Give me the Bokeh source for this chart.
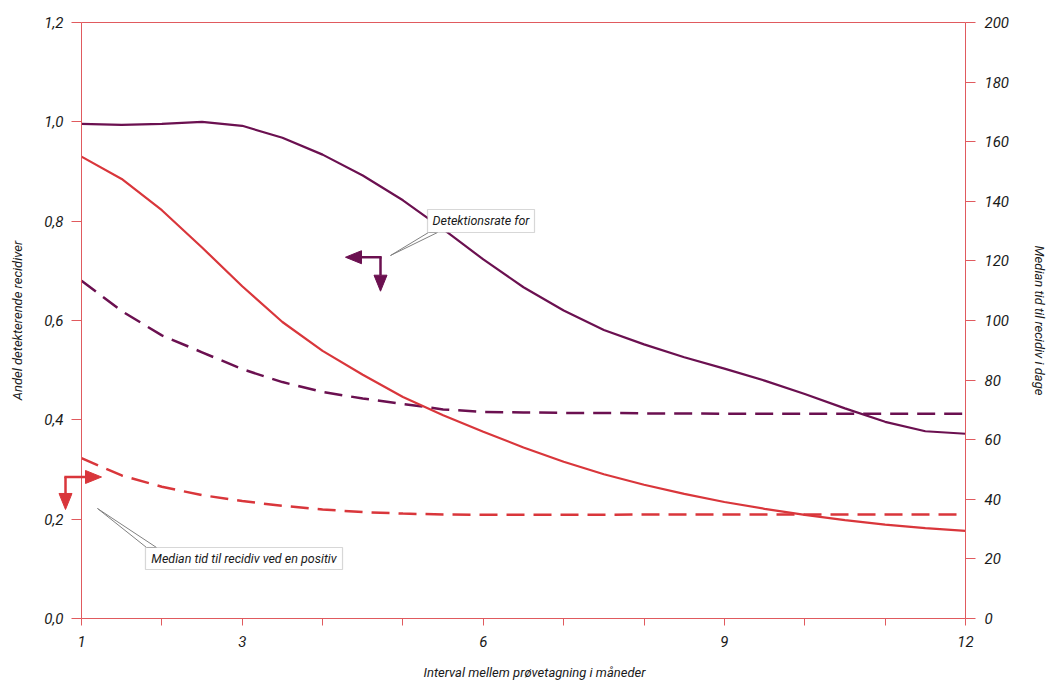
import math
from bokeh.plotting import figure
from bokeh.models import (Range1d, LinearAxis, FixedTicker, CustomJSTickFormatter,
                          BoxAnnotation, Label, PolyAnnotation)
from bokeh.embed import file_html
from bokeh.resources import INLINE

# ---- data -------------------------------------------------------------
months = [1, 1.5, 2, 2.5, 3, 3.5, 4, 4.5, 5, 5.5, 6, 6.5, 7, 7.5, 8, 8.5,
          9, 9.5, 10, 10.5, 11, 11.5, 12]
# left axis: share of detected recurrences
detect_solid = [0.996, 0.994, 0.996, 1.0, 0.992, 0.968, 0.934, 0.892, 0.842,
                0.784, 0.723, 0.667, 0.620, 0.581, 0.552, 0.526, 0.503, 0.479,
                0.452, 0.423, 0.396, 0.377, 0.372]
detect_dashed = [0.680, 0.619, 0.570, 0.536, 0.502, 0.476, 0.456, 0.443, 0.432,
                 0.421, 0.416, 0.415, 0.414, 0.414, 0.413, 0.413, 0.412, 0.412,
                 0.412, 0.412, 0.412, 0.412, 0.412]
# right axis: median time to recurrence in days
days_solid = [155, 147.5, 137, 124.5, 111.5, 99.5, 89.8, 81.8, 74.3, 68.2, 62.7,
              57.4, 52.6, 48.4, 44.9, 41.8, 39.1, 36.8, 34.8, 33.0, 31.5, 30.3, 29.4]
days_dashed = [53.8, 48.0, 44.2, 41.4, 39.4, 37.8, 36.6, 35.7, 35.2, 34.9, 34.8,
               34.8, 34.8, 34.8, 34.9, 34.9, 34.9, 34.9, 34.9, 34.9, 34.9, 34.9, 34.9]

x_ticks = list(range(1, 13))
x_labelled = [1, 3, 6, 9, 12]
left_ticks = [0, 0.2, 0.4, 0.6, 0.8, 1.0, 1.2]
right_ticks = list(range(0, 201, 20))

left_title = "Andel detekterende recidiver"
right_title = "Median tid til recidiv i dage"
x_title = "Interval mellem prøvetagning i måneder"
note_detect = "Detektionsrate for"
note_median = "Median tid til recidiv ved en positiv"

# ---- style / geometry -------------------------------------------------
PURPLE = "#6b1050"
RED = "#d9363b"
AXIS = "#e05a5e"
FONT = "Roboto"
TXT = "#1a1a1a"

W, H = 1046, 682
X0, X1 = 1, 12            # x axis extent (months)
Y0, Y1 = 0, 1.2           # left axis extent
D0, D1 = 0, 200           # right axis extent (days)
AX_LEFT, AX_RIGHT = 81, 965   # screen position of the axes
AX_TOP, AX_BOTTOM = 22, 618

PX_PER_X = (AX_RIGHT - AX_LEFT) / (X1 - X0)
PX_PER_Y = (AX_BOTTOM - AX_TOP) / (Y1 - Y0)
PX_PER_D = (AX_BOTTOM - AX_TOP) / (D1 - D0)

# the plotting frame covers the whole canvas, so that axis labels and the
# pointer arrows outside the axes are not clipped; axes sit at fixed locations
x_rng = Range1d(X0 - AX_LEFT / PX_PER_X, X1 + (W - AX_RIGHT) / PX_PER_X)
y_rng = Range1d(Y0 - (H - AX_BOTTOM) / PX_PER_Y, Y1 + AX_TOP / PX_PER_Y)
d_rng = Range1d(D0 - (H - AX_BOTTOM) / PX_PER_D, D1 + AX_TOP / PX_PER_D)

p = figure(width=W, height=H, output_backend="svg", toolbar_location=None,
           x_range=x_rng, y_range=y_rng,
           min_border_left=0, min_border_right=0, min_border_top=0,
           min_border_bottom=0, background_fill_color="white",
           border_fill_color="white")
p.extra_y_ranges = {"days": d_rng}
p.xgrid.visible = False
p.ygrid.visible = False
p.outline_line_color = None

# lines
p.line(months, detect_solid, color=PURPLE, line_width=2.2)
p.line(months, detect_dashed, color=PURPLE, line_width=2.5, line_dash="18 9")
p.line(months, days_solid, color=RED, line_width=2.2, y_range_name="days")
p.line(months, days_dashed, color=RED, line_width=2.5, line_dash="18 9",
       y_range_name="days")

# axes
def style_axis(ax):
    ax.axis_line_color = AXIS
    ax.axis_line_width = 1
    ax.major_tick_line_color = AXIS
    ax.major_tick_in = 0
    ax.minor_tick_line_color = None
    ax.major_label_text_font = FONT
    ax.major_label_text_font_style = "italic"
    ax.major_label_text_font_size = "15px"
    ax.major_label_text_color = TXT

xa = p.below[0]
ya = p.left[0]

style_axis(xa)
xa.fixed_location = Y0
xa.bounds = (X0, X1)
xa.ticker = FixedTicker(ticks=x_ticks)
xa.formatter = CustomJSTickFormatter(args=dict(show=x_labelled),
                                     code="return show.includes(tick) ? String(tick) : '';")
xa.major_tick_out = 7
xa.major_label_standoff = 10

style_axis(ya)
ya.fixed_location = X0
ya.bounds = (Y0, Y1)
ya.ticker = FixedTicker(ticks=left_ticks)
ya.formatter = CustomJSTickFormatter(code="return tick.toFixed(1).replace('.', ',');")
ya.major_tick_out = 10
ya.major_label_standoff = 8

top_axis = LinearAxis(ticker=FixedTicker(ticks=[]), bounds=(X0, X1),
                      fixed_location=Y1, major_tick_out=0, major_tick_in=0,
                      minor_tick_out=0, minor_tick_in=0,
                      major_label_text_font_size="0px",
                      axis_line_color=AXIS, axis_line_width=1)
p.add_layout(top_axis, "above")

right_axis = LinearAxis(y_range_name="days", fixed_location=X1)
p.add_layout(right_axis, "right")
style_axis(right_axis)
right_axis.bounds = (D0, D1)
right_axis.ticker = FixedTicker(ticks=right_ticks)
right_axis.major_tick_out = 10
right_axis.major_label_standoff = 9

def title_label(x, y, text, angle=0.0):
    p.add_layout(Label(x=x, y=y, text=text, angle=angle, text_font=FONT,
                       text_font_style="italic", text_font_size="13px",
                       text_align="center", text_baseline="middle",
                       text_color=TXT))

# axis titles (screen offsets from the axes converted to data units)
title_label(X0 - 64 / PX_PER_X, (Y0 + Y1) / 2, left_title, angle=math.pi / 2)
title_label(X1 + 74 / PX_PER_X, (Y0 + Y1) / 2, right_title, angle=-math.pi / 2)
title_label(X0 + 453 / PX_PER_X, Y0 - 54 / PX_PER_Y, x_title)

# ---- callouts (annotation positions in data units) ----------------------
def wedge(xs, ys):
    p.patch(xs, ys, fill_color="white", line_color="#808080", line_width=1)

def note(left, right, bottom, top, text):
    p.add_layout(BoxAnnotation(left=left, right=right, bottom=bottom, top=top,
                               fill_color="white", fill_alpha=1,
                               line_color="#7a7a7a", line_width=1.2))
    p.add_layout(Label(x=(left + right) / 2, y=(bottom + top) / 2, text=text,
                       text_font=FONT, text_font_style="italic",
                       text_font_size="12.5px", text_baseline="middle",
                       text_align="center", text_color=TXT))

wedge([4.845, 5.318, 5.430], [0.7309, 0.7772, 0.7772])
note(5.3055, 6.637, 0.7772, 0.8235, note_detect)

wedge([1.199, 1.809, 1.933], [0.2215, 0.1430, 0.1430])
note(1.796, 4.248, 0.0987, 0.1430, note_median)

# axis-pointer arrows (L-shaped polygons)
PX_X = 1 / PX_PER_X     # data units per screen pixel, x
PX_Y = 1 / PX_PER_Y     # data units per screen pixel, y
HEAD_L, HEAD_W = 16, 13

def l_arrow(xc, yc, x_tip, y_tip, color):
    sx = 1 if x_tip > xc else -1
    bx = x_tip - sx * HEAD_L * PX_X
    by = y_tip + HEAD_L * PX_Y
    hw_x = HEAD_W / 2 * PX_X
    hw_y = HEAD_W / 2 * PX_Y
    kw = dict(fill_color=color, fill_alpha=1, line_color=color, line_width=2.5,
              line_alpha=1)
    for poly in [
        PolyAnnotation(xs=[xc - sx * 1.2 * PX_X, bx], ys=[yc, yc], **kw),
        PolyAnnotation(xs=[xc, xc], ys=[yc, by], **kw),
        PolyAnnotation(xs=[x_tip, bx, bx], ys=[yc, yc + hw_y, yc - hw_y],
                       **dict(kw, line_width=1)),
        PolyAnnotation(xs=[xc, xc - hw_x, xc + hw_x], ys=[y_tip, by, by],
                       **dict(kw, line_width=1)),
    ]:
        p.add_layout(poly)

l_arrow(4.7206, 0.7274, 4.285, 0.659, PURPLE)
l_arrow(0.801, 0.2849, 1.249, 0.2195, RED)

open("out.html", "w").write(file_html(p, INLINE))
